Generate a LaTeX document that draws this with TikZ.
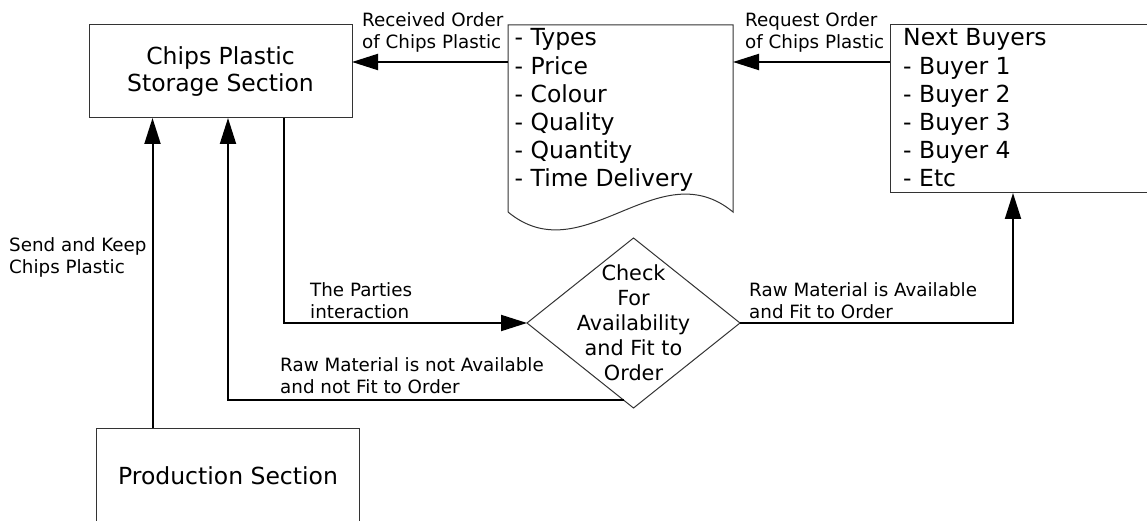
\documentclass[tikz,border=0pt]{standalone}
\usepackage{fontspec}
\setmainfont{DejaVu Sans}
\usetikzlibrary{arrows.meta,shapes.geometric,calc}
\begin{document}
\begin{tikzpicture}[x=1pt,y=-1pt,
  boxline/.style={draw=black!80,line width=1pt},
  box/.style={boxline,rectangle,minimum width=263pt,inner sep=0pt,outer sep=0pt},
  big/.style={font=\fontsize{23.5}{27}\selectfont},
  item/.style={anchor=base west,inner sep=0pt,font=\fontsize{23.5}{28}\selectfont},
  lbl/.style={anchor=west,align=left,inner sep=0pt,font=\fontsize{18.3}{22}\selectfont},
  flow/.style={line width=2pt,-{Triangle[length=26pt,width=16pt]}}
]
\useasboundingbox (0,0) rectangle (1147,521);
\fill[white] (0,0) rectangle (1147,521);
\clip (0,0) rectangle (1147,521);

% main blocks
\node[box,minimum height=93pt,align=center,big] (storage) at (220.5,71.5) {Chips Plastic\\Storage Section};
\node[box,minimum height=96pt,big] (prod) at (228,476) {Production Section};
\node[box,minimum height=168pt] (buyers) at (1021.5,109) {};

% order document with wavy bottom edge
\node[rectangle,minimum width=225pt,minimum height=187pt,inner sep=0pt,outer sep=0pt] (doc) at (620.5,118.5) {};
\draw[boxline] (doc.south west) -- (doc.north west) -- (doc.north east) -- (doc.south east)
  .. controls ($(doc.south east)+(-75,-62)$) and ($(doc.south west)+(75,62)$) .. (doc.south west);

\foreach \t [count=\i] in {Types,Price,Colour,Quality,Quantity,Time Delivery}
  \node[item] (spec\i) at (514.5,{46+(\i-1)*28.2}) {- \t};

\node[item] (nb0) at (903,46) {Next Buyers};
\foreach \t [count=\i] in {Buyer 1,Buyer 2,Buyer 3,Buyer 4,Etc}
  \node[item] (nb\i) at (903,{46+\i*28.2}) {- \t};

% decision
\node[diamond,draw=black!80,line width=1pt,minimum width=213pt,minimum height=170pt,inner sep=0pt,outer sep=0pt] (chk) at (633.5,323) {};
\node[align=center,inner sep=0pt,font=\fontsize{20.8}{25}\selectfont] (chktext) at (chk.center) {Check\\For\\Availability\\and Fit to\\Order};

% connectors
\coordinate (rq) at ($(buyers.north west)+(0,37)$);
\draw[flow] (rq) -- (rq -| doc.east);
\draw[flow] (doc.west |- rq) -- (storage.east |- rq);
\coordinate (sk) at ($(prod.north west)+(56,0)$);
\draw[flow] (sk) -- (sk |- storage.south);
\coordinate (pi) at ($(storage.south west)+(195,0)$);
\draw[flow] (pi) |- (chk.west);
\coordinate (na) at ($(storage.south west)+(139,0)$);
\draw[flow] (chk.263.6) -| (na);
\coordinate (av) at ($(buyers.south west)+(123,0)$);
\draw[flow] (chk.east) -| (av);

% connector labels
\node[lbl] (l1) at (362,32) {Received Order\\of Chips Plastic};
\node[lbl] (l2) at (745,32) {Request Order\\of Chips Plastic};
\node[lbl] (l3) at (9,257.5) {Send and Keep\\Chips Plastic};
\node[lbl] (l4) at (310,301) {The Parties\\interaction};
\node[lbl] (l5) at (280,375.5) {Raw Material is not Available\\and not Fit to Order};
\node[lbl] (l6) at (749,300.5) {Raw Material is Available\\and Fit to Order};
\end{tikzpicture}
\end{document}
